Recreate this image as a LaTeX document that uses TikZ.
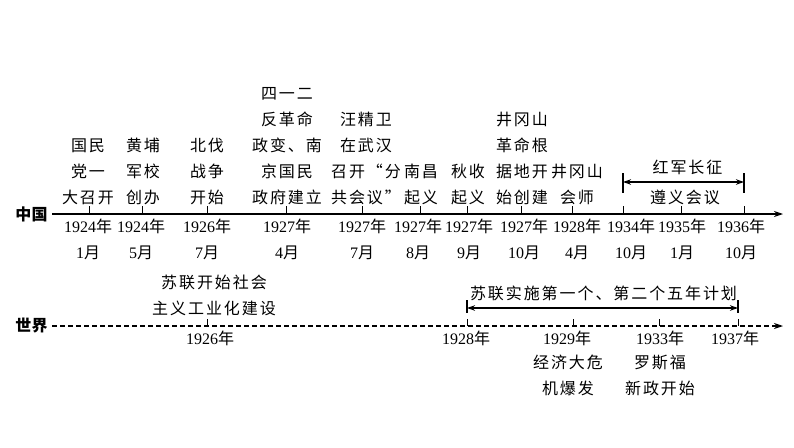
\documentclass[tikz,border=0pt]{standalone}
\usepackage{fontspec}
\setmainfont{Liberation Serif}
\newfontfamily\cjk[LetterSpace=12]{Noto Sans CJK SC}
\newfontfamily\cjkhead{Noto Sans CJK SC}
\usetikzlibrary{arrows.meta,calc}
\newcommand\nian{{\cjk 年}}
\newcommand\yue{{\cjk 月}}
\tikzset{
	event/.style={font=\cjk\fontsize{16pt}{26pt}\selectfont, align=center, inner sep=0pt, text depth=0pt, anchor=south},
	below event/.style={event, anchor=base},
	date/.style={font=\fontsize{16pt}{26pt}\selectfont, align=center, inner sep=0pt, anchor=base},
	head/.style={font=\cjkhead\bfseries\fontsize{16pt}{20pt}\selectfont, inner sep=0pt, anchor=east},
	span/.style={line width=1.1pt, {Stealth[length=8pt,width=5.5pt]}-{Stealth[length=8pt,width=5.5pt]}},
}

\begin{document}
\begin{tikzpicture}[x=1pt, y=1pt, line width=1pt, >={Stealth[length=9pt,width=6pt]}]
	\useasboundingbox (0,0) rectangle (794,-447);
	\coordinate (china)  at (52,  -214);
	\coordinate (chinaE) at (783, -214);
	\coordinate (world)  at (52,  -326);
	\coordinate (worldE) at (783, -326);

	\node[head] (CN) at (48, -214) {中国};
	\node[head] (WD) at (48, -326) {世界};
	\draw[->, line width=1.2pt] (china) -- (chinaE);
	\draw[->, line width=1.1pt, dash pattern=on 5pt off 3pt] (world) -- (worldE);

	% ticks
	\foreach \x [count=\i] in {89,142,207,286,362,420,467,521,572,623,681,744}
		{\coordinate (t\i) at (\x, -214); \draw (t\i) -- ++(0, 8);}
	\foreach \x [count=\i] in {207,467,573,659,738}
		{\coordinate (w\i) at (\x, -326); \draw (w\i) -- ++(0, 7);}

	% China, above the line
	\node[event] (E1)  at ($(t1)+(-1, 10)$)  {国民\\党一\\大召开};
	\node[event] (E2)  at ($(t2)+(1, 10)$)   {黄埔\\军校\\创办};
	\node[event] (E3)  at ($(t3)+(0, 10)$)   {北伐\\战争\\开始};
	\node[event] (E4)  at ($(t4)+(1, 10)$)   {四一二\\反革命\\政变、南\\京国民\\政府建立};
	\node[event] (E5)  at ($(t5)+(4, 10)$)   {汪精卫\\在武汉\\召开“分\\共会议”};
	\node[event] (E6)  at ($(t6)+(1, 10)$)   {南昌\\起义};
	\node[event] (E7)  at ($(t7)+(1, 10)$)   {秋收\\起义};
	\node[event] (E8)  at ($(t8)+(1, 10)$)   {井冈山\\革命根\\据地开\\始创建};
	\node[event] (E9)  at ($(t9)+(5, 10)$)   {井冈山\\会师};
	\node[event] (E11) at ($(t11)+(4, 10)$)  {遵义会议};

	% China, dates
	\node[date] (D1)  at ($(t1)+(-1, -44)$)  {1924\nian\\1\yue};
	\node[date] (D2)  at ($(t2)+(-1, -44)$)  {1924\nian\\5\yue};
	\node[date] (D3)  at ($(t3)+(0, -44)$)   {1926\nian\\7\yue};
	\node[date] (D4)  at ($(t4)+(1, -44)$)   {1927\nian\\4\yue};
	\node[date] (D5)  at ($(t5)+(0, -44)$)   {1927\nian\\7\yue};
	\node[date] (D6)  at ($(t6)+(-2, -44)$)  {1927\nian\\8\yue};
	\node[date] (D7)  at ($(t7)+(2, -44)$)   {1927\nian\\9\yue};
	\node[date] (D8)  at ($(t8)+(3, -44)$)   {1927\nian\\10\yue};
	\node[date] (D9)  at ($(t9)+(5, -44)$)   {1928\nian\\4\yue};
	\node[date] (D10) at ($(t10)+(8, -44)$)  {1934\nian\\10\yue};
	\node[date] (D11) at ($(t11)+(1, -44)$)  {1935\nian\\1\yue};
	\node[date] (D12) at ($(t12)+(-3, -44)$) {1936\nian\\10\yue};

	% long march
	\coordinate (LMa) at (623, -182);
	\coordinate (LMb) at (744, -182);
	\draw[span] (LMa) -- (LMb);
	\draw[line width=1.2pt] ($(LMa)+(0, 9)$) -- ($(LMa)+(0, -11)$);
	\draw[line width=1.2pt] ($(LMb)+(0, 9)$) -- ($(LMb)+(0, -11)$);
	\node[event] (LM) at ($(LMa)!0.5!(LMb)+(4, 8)$) {红军长征};

	% world
	\node[event] (F1) at ($(w1)+(7, 11)$)      {苏联开始社会\\主义工业化建设};
	\node[date]  (G1) at ($(w1)+(3, -18)$)     {1926\nian};
	\node[date]  (G2) at ($(w2)+(-1, -18)$)    {1928\nian};
	\node[date]  (G3) at ($(w3)+(-6, -18)$)    {1929\nian};
	\node[date]  (G4) at ($(w4)+(1, -18)$)     {1933\nian};
	\node[date]  (G5) at ($(w5)+(-3, -18)$)    {1937\nian};
	\node[below event] (F3) at ($(w3)+(-5, -68)$) {经济大危\\机爆发};
	\node[below event] (F4) at ($(w4)+(1, -68)$)  {罗斯福\\新政开始};

	% five-year plans
	\coordinate (FPa) at (467, -308);
	\coordinate (FPb) at (738, -308);
	\draw[span] (FPa) -- (FPb);
	\draw[line width=1.2pt] ($(FPa)+(0, 8)$) -- ($(FPa)+(0, -5)$);
	\draw[line width=1.2pt] ($(FPb)+(0, 8)$) -- ($(FPb)+(0, -5)$);
	\node[event] (FP) at ($(FPa)!0.5!(FPb)+(1, 8)$) {苏联实施第一个、第二个五年计划};
\end{tikzpicture}
\end{document}
